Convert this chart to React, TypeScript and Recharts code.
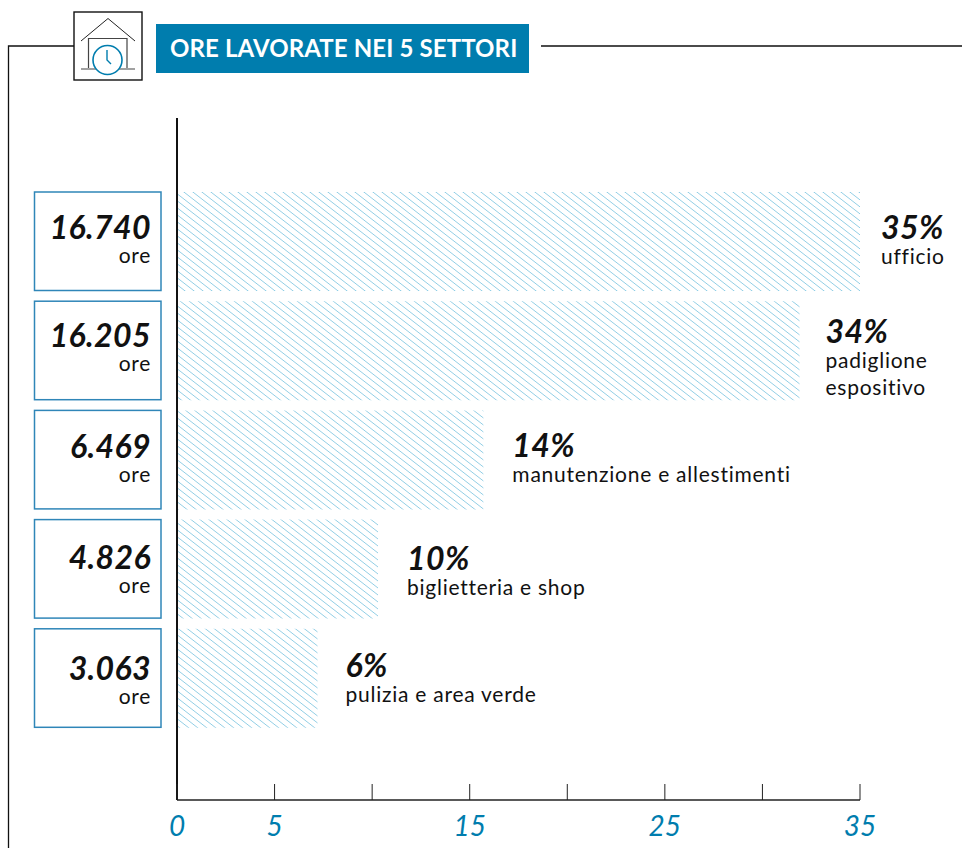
import React from "react";
import { Bar, BarChart, LabelList, XAxis, YAxis } from "recharts";

const sectors = ["ufficio", "padiglione espositivo", "manutenzione e allestimenti", "biglietteria e shop", "pulizia e area verde"];
const barValues = [35, 31.9, 15.7, 10.3, 7.2];
const percentLabels = ["35%", "34%", "14%", "10%", "6%"];
const hoursLabels = ["16.740", "16.205", "6.469", "4.826", "3.063"];
const axisTicks = [0, 5, 10, 15, 20, 25, 30, 35];
const labelledTicks = [0, 5, 15, 25, 35];

const data = sectors.map((sector, i) => ({ sector, value: barValues[i] }));

const FONT = "Lato, 'Noto Sans', sans-serif";
const BLUE = "#007dae";
const BOX = "#2f86b8";
// small per-row nudges, the labels in the original are hand placed
const labelGaps = [21, 26, 29, 29, 28];
const labelShift = [0, -5, 0, 3, 1];
const hoursShift = [0, -1, 1, 2, 4];

function AxisTick({ x, y, payload }: any) {
  return (
    <g>
      <line x1={x} x2={x} y1={y - 16} y2={y} stroke="#222" strokeWidth={1} />
      {labelledTicks.includes(payload.value) && (
        <text x={x} y={y + 36} textAnchor="middle" fontFamily={FONT} fontStyle="italic" fontSize={28} fill={BLUE}>
          {payload.value}
        </text>
      )}
    </g>
  );
}

function HoursBox({ x, y, height, index }: any) {
  const dy = hoursShift[index];
  return (
    <g>
      <rect x={x - 142.5} y={y} width={126.5} height={height - 0.5} fill="#fff" stroke={BOX} strokeWidth={1.5} />
      <text x={x - 26} y={y + 47 + dy} textAnchor="end" fontFamily={FONT} fontStyle="italic" fontWeight={700} fontSize={32} letterSpacing={0.4} fill="#111">
        {hoursLabels[index]}
      </text>
      <text x={x - 26} y={y + 71 + dy} textAnchor="end" fontFamily={FONT} fontSize={21} letterSpacing={0.7} fill="#111">
        ore
      </text>
    </g>
  );
}

function SectorLabel({ x, y, width, index }: any) {
  const left = x + width + labelGaps[index];
  const dy = labelShift[index];
  const words = index === 1 ? ["padiglione", "espositivo"] : [sectors[index]];
  return (
    <g>
      <text x={left} y={y + 47 + dy} fontFamily={FONT} fontStyle="italic" fontWeight={700} fontSize={32} letterSpacing={0.4} fill="#111">
        {percentLabels[index]}
      </text>
      {words.map((w, i) => (
        <text key={w} x={left} y={y + 72 + dy + i * 27} fontFamily={FONT} fontSize={21} letterSpacing={0.75} fill="#111">
          {w}
        </text>
      ))}
    </g>
  );
}

export default function App() {
  return (
    <div style={{ position: "absolute", left: 0, top: 0, width: 962, height: 848, overflow: "hidden", background: "#fff" }}>
      <svg width={962} height={848} style={{ position: "absolute", left: 0, top: 0 }}>
        <path d="M8.5 848V46H74M541 46H962" fill="none" stroke="#111" strokeWidth={1.3} />
        <rect x={74} y={12} width={68} height={68} fill="#fff" stroke="#111" strokeWidth={1.4} />
        <path d="M81 41L108 18.500L135 41" fill="none" stroke="#222" strokeWidth={1} />
        <path d="M88.500 68V38.500H127V68M81 69H135" fill="none" stroke="#444" strokeWidth={1.2} />
        <circle cx={107.500} cy={60} r={14.500} fill="#fff" stroke={BLUE} strokeWidth={1.6} />
        <path d="M107 50V60L111 64" fill="none" stroke={BLUE} strokeWidth={1.4} />
        <rect x={156} y={24} width={373} height={49} fill={BLUE} />
        <text x={170} y={57} fontFamily={FONT} fontWeight={700} fontSize={24} letterSpacing={0.12} fill="#fff">
          ORE LAVORATE NEI 5 SETTORI
        </text>
      </svg>
      <div style={{ position: "absolute", left: 0, top: 0 }}>
        <BarChart
          width={962}
          height={848}
          data={data}
          layout="vertical"
          margin={{ top: 118, right: 102, bottom: 0, left: 176 }}
          barCategoryGap={5}
        >
          <defs>
            <pattern id="hatch" patternUnits="userSpaceOnUse" width={9} height={7}>
              <path d="M-9 -7L18 14M-9 0L9 14M0 -7L18 7" stroke="#86c8e2" strokeWidth={0.9} fill="none" />
            </pattern>
          </defs>
          <XAxis
            type="number"
            domain={[0, 35]}
            ticks={axisTicks}
            interval={0}
            height={48}
            tick={<AxisTick />}
            tickLine={false}
            tickSize={0}
            tickMargin={0}
            axisLine={{ stroke: "#222", strokeWidth: 1.5 }}
          />
          <YAxis
            type="category"
            dataKey="sector"
            width={1}
            tick={false}
            tickLine={false}
            padding={{ top: 69, bottom: 67 }}
            axisLine={{ stroke: "#111", strokeWidth: 2 }}
          />
          <Bar dataKey="value" fill="url(#hatch)" isAnimationActive={false}>
            <LabelList content={<HoursBox />} />
            <LabelList content={<SectorLabel />} />
          </Bar>
        </BarChart>
      </div>
    </div>
  );
}
